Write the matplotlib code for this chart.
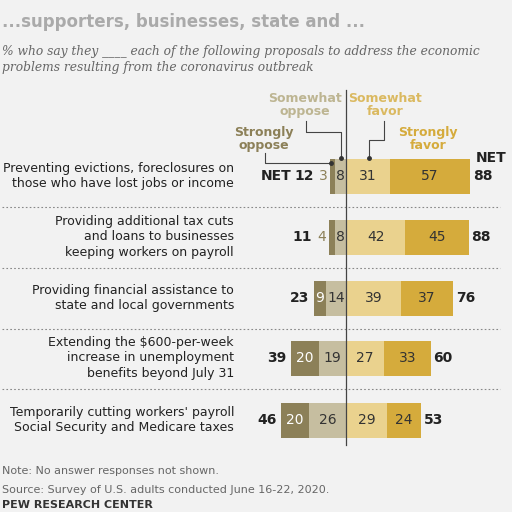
import matplotlib.pyplot as plt

items = ["Preventing evictions, foreclosures on\nthose who have lost jobs or income",
         "Providing additional tax cuts\nand loans to businesses\nkeeping workers on payroll",
         "Providing financial assistance to\nstate and local governments",
         "Extending the $600-per-week\nincrease in unemployment\nbenefits beyond July 31",
         "Temporarily cutting workers' payroll\nSocial Security and Medicare taxes"]
strongly_oppose = [3, 4, 9, 20, 20]
somewhat_oppose = [8, 8, 14, 19, 26]
somewhat_favor = [31, 42, 39, 27, 29]
strongly_favor = [57, 45, 37, 33, 24]
net_oppose = [12, 11, 23, 39, 46]
net_favor = [88, 88, 76, 60, 53]

c_so, c_mo, c_mf, c_sf = "#8c8058", "#c6bea0", "#ead28e", "#d5ab3c"
t_so, t_mo, t_mf, t_sf = "#8c8058", "#bdb592", "#d9be6e", "#d5ab3c"

px = 1.41  # pixels per percent
x0 = 346
fig = plt.figure(figsize=(5.12, 5.12), dpi=100)
fig.patch.set_facecolor("#f2f2f2")
ax = fig.add_axes([0, 0, 1, 1])
ax.set_xlim(-x0 / px, (512 - x0) / px)
ax.set_ylim(512, 0)
ax.axis("off")

def X(p):  # pixel -> data
    return (p - x0) / px

ys = [176, 237, 298, 358, 420]
h = 35
for i, y in enumerate(ys):
    a, b, c, d = strongly_oppose[i], somewhat_oppose[i], somewhat_favor[i], strongly_favor[i]
    ax.barh(y, -b, height=h, color=c_mo)
    ax.barh(y, -a, left=-b, height=h, color=c_so)
    ax.barh(y, c, height=h, color=c_mf)
    ax.barh(y, d, left=c, height=h, color=c_sf)
    ax.text(-b / 2, y, str(b), ha="center", va="center", fontsize=10, color="#333")
    ax.text(c / 2, y, str(c), ha="center", va="center", fontsize=10, color="#333")
    ax.text(c + d / 2, y, str(d), ha="center", va="center", fontsize=10, color="#333")
    if a >= 9:
        ax.text(-b - a / 2, y, str(a), ha="center", va="center", fontsize=10, color="white")
        nx = -b - a - 3
    else:
        ax.text(-b - a - 2, y, str(a), ha="right", va="center", fontsize=10, color=t_so)
        nx = -b - a - 12
    ax.text(nx, y, str(net_oppose[i]), ha="right", va="center", fontsize=10,
            fontweight="bold", color="#222")
    ax.text(c + d + 2, y, str(net_favor[i]), ha="left", va="center", fontsize=10,
            fontweight="bold", color="#222")
    ax.text(X(234), y, items[i], ha="right", va="center", fontsize=9, color="#222",
            linespacing=1.25)
    if i < 4:
        ax.plot([X(2), X(500)], [y + 31, y + 31], ls=(0, (1.5, 2)), color="#888", lw=0.8)

ax.text(X(291), ys[0], "NET", ha="right", va="center", fontsize=10, fontweight="bold", color="#222")
ax.text(X(476), ys[0] - 18, "NET", ha="left", va="center", fontsize=10, fontweight="bold", color="#222")
ax.plot([0, 0], [90, 445], color="#444", lw=0.9)

# legend labels with leader lines
ax.text(X(305), 105, "Somewhat\noppose", ha="center", va="center", fontsize=9,
        fontweight="bold", color=t_mo, linespacing=1.0)
ax.text(X(385), 105, "Somewhat\nfavor", ha="center", va="center", fontsize=9,
        fontweight="bold", color=t_sf, alpha=0.8, linespacing=1.0)
ax.text(X(264), 139, "Strongly\noppose", ha="center", va="center", fontsize=9,
        fontweight="bold", color=t_so, linespacing=1.0)
ax.text(X(428), 139, "Strongly\nfavor", ha="center", va="center", fontsize=9,
        fontweight="bold", color=t_sf, linespacing=1.0)
ax.plot([X(306), X(306), X(341), X(341)], [121, 132, 132, 158], color="#444", lw=0.8)
ax.plot([X(384), X(384), X(369), X(369)], [121, 140, 140, 158], color="#444", lw=0.8)
ax.plot([X(265), X(265), X(331), X(331)], [153, 163, 163, 163], color="#444", lw=0.8)
ax.plot([X(331)], [163], "o", color="#333", ms=2.5)
ax.plot([X(341)], [158], "o", color="#333", ms=2.5)
ax.plot([X(369)], [158], "o", color="#333", ms=2.5)

ax.text(X(2), 22, "...supporters, businesses, state and ...", ha="left", va="center",
        fontsize=12, fontweight="bold", color="#aaa")
ax.text(X(2), 59, "% who say they ____ each of the following proposals to address the economic\n"
        "problems resulting from the coronavirus outbreak", ha="left", va="center",
        fontsize=8.8, style="italic", color="#666", linespacing=1.3, family="DejaVu Serif")
ax.text(X(2), 471, "Note: No answer responses not shown.", ha="left", va="center",
        fontsize=8, color="#666")
ax.text(X(2), 490, "Source: Survey of U.S. adults conducted June 16-22, 2020.", ha="left",
        va="center", fontsize=8, color="#666")
ax.text(X(2), 505, "PEW RESEARCH CENTER", ha="left", va="center", fontsize=8,
        fontweight="bold", color="#333")

fig.savefig("out.png", dpi=100)
